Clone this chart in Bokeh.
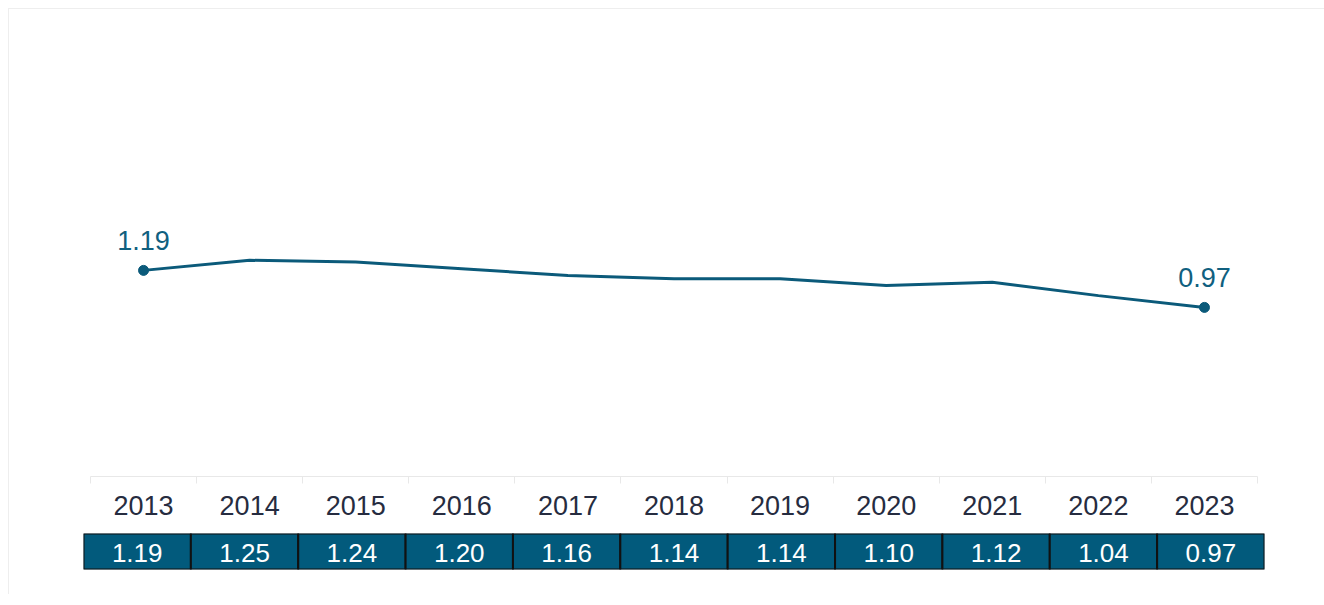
from bokeh.plotting import figure
from bokeh.models import Range1d, FixedTicker, ColumnDataSource
from bokeh.layouts import column
from bokeh.core.properties import value
from bokeh.embed import file_html
from bokeh.resources import INLINE

years = [2013, 2014, 2015, 2016, 2017, 2018, 2019, 2020, 2021, 2022, 2023]
values = [1.19, 1.25, 1.24, 1.20, 1.16, 1.14, 1.14, 1.10, 1.12, 1.04, 0.97]
year_labels = [str(y) for y in years]
value_labels = ["%.2f" % v for v in values]

LINE = "#0b5a7a"
CELL = "#025a7c"
FONT = "Liberation Sans"

# ---- main line chart ----
p = figure(width=1315, height=517, output_backend="svg", toolbar_location=None,
           x_range=Range1d(years[0] - 0.5, years[-1] + 0.5),
           y_range=Range1d(-0.035, 2.58),
           min_border_left=81, min_border_right=67, min_border_top=27, min_border_bottom=50)
p.frame_align = False
p.outline_line_color = None
p.xgrid.visible = False
p.ygrid.visible = False
p.yaxis.visible = False
p.background_fill_color = "white"
p.border_fill_color = "white"

src = ColumnDataSource(dict(x=years, y=values))
p.line("x", "y", source=src, line_color=LINE, line_width=3)

end_src = ColumnDataSource(dict(x=[years[0], years[-1]], y=[values[0], values[-1]],
                                t=[value_labels[0], value_labels[-1]]))
p.scatter("x", "y", source=end_src, size=10, fill_color=LINE, line_color=LINE)
p.text("x", "y", text="t", source=end_src, text_align="center", text_baseline="alphabetic",
       y_offset=-30, text_font=value(FONT), text_font_size="27px", text_color="#10607f")

ax = p.xaxis[0]
ax.ticker = FixedTicker(ticks=years, minor_ticks=[y - 0.5 for y in years] + [years[-1] + 0.5])
ax.major_label_overrides = {y: s for y, s in zip(years, year_labels)}
ax.axis_line_color = "#e8e8e8"
ax.axis_line_width = 1
ax.major_tick_line_color = None
ax.minor_tick_line_color = "#e8e8e8"
ax.minor_tick_out = 7
ax.minor_tick_in = 0
ax.major_label_standoff = 12
ax.major_label_text_font = FONT
ax.major_label_text_font_size = "27px"
ax.major_label_text_color = "#262c40"

# ---- data table row ----
t = figure(width=1315, height=68, output_backend="svg", toolbar_location=None,
           x_range=Range1d(years[0] - 0.5, years[-1] + 0.5),
           y_range=Range1d(0, 1),
           min_border_left=74, min_border_right=60, min_border_top=7, min_border_bottom=25)
t.frame_align = False
t.outline_line_color = None
t.axis.visible = False
t.grid.visible = False
tsrc = ColumnDataSource(dict(x=years, y=[0.5] * len(years), t=value_labels))
t.rect("x", "y", width=1, height=1, source=tsrc, fill_color=CELL, line_color="#111111", line_width=2)
t.text("x", "y", text="t", source=tsrc, text_align="center", text_baseline="middle",
       text_font=value(FONT), text_font_size="26px", text_color="white", y_offset=1)

layout = column(p, t, spacing=0, styles={"border-top": "1px solid #eeeeee",
                                         "border-left": "1px solid #eeeeee",
                                         "margin": "8px 0px 8px 8px"})

open("out.html", "w").write(file_html(layout, INLINE))
